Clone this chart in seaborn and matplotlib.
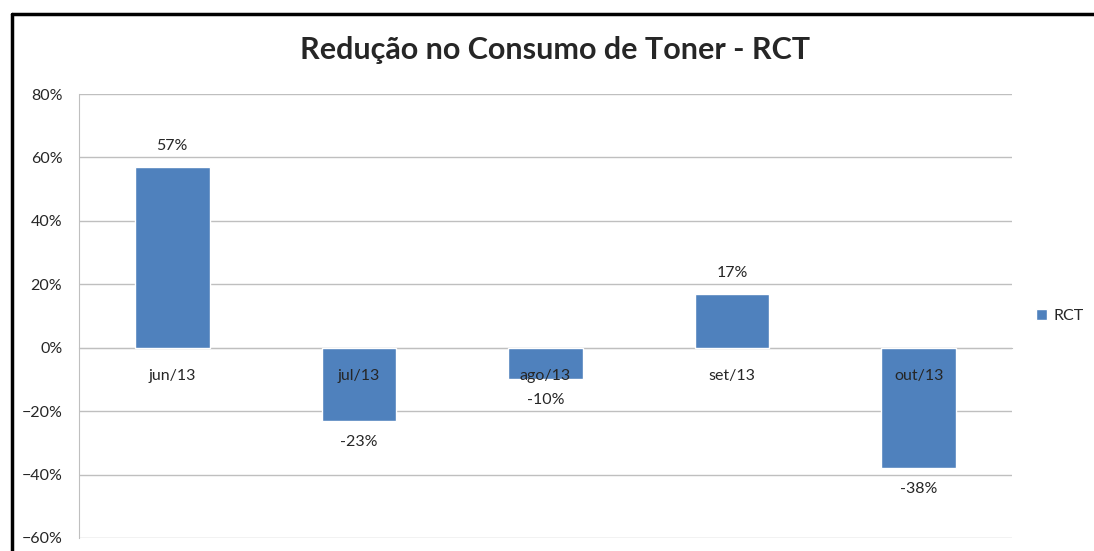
import numpy as np
import pandas as pd
import matplotlib
matplotlib.use("Agg")
import matplotlib.pyplot as plt
import seaborn as sns
from matplotlib.lines import Line2D
from matplotlib.ticker import FixedLocator, PercentFormatter

# dados do grafico
meses = ["jun/13", "jul/13", "ago/13", "set/13", "out/13"]
reducao = [57, -23, -10, 17, -38]
serie = "RCT"

df = pd.DataFrame({"Mes": meses, "Reducao": reducao, "Serie": serie})

sns.set_style("white")
plt.rcParams["font.family"] = ["Lato", "DejaVu Sans"]

fig = plt.figure(figsize=(10.94, 5.51), dpi=100)
ax = fig.add_axes([0.0722, 0.0236, 0.8528, 0.8058])

sns.barplot(data=df, x="Mes", y="Reducao", hue="Serie", palette=["#4F81BD"],
            width=0.4, ax=ax, legend=True, saturation=1)

ax.set_ylim(-60, 80)
ax.set_yticks(np.arange(-60, 81, 20))
ax.yaxis.set_major_formatter(PercentFormatter(decimals=0))
ax.grid(axis="y", color="#BFBFBF", linewidth=1)
ax.set_axisbelow(True)
ax.set_xlim(-0.5, len(meses) - 0.5)

for s in ["top", "right"]:
    ax.spines[s].set_visible(False)
ax.spines["left"].set_color("#BFBFBF")
ax.spines["bottom"].set_color("#BFBFBF")
ax.spines["bottom"].set_position(("data", 0))
ax.spines["bottom"].set_zorder(0.6)

ax.tick_params(axis="y", length=6, color="#BFBFBF", labelsize=11.5, pad=6)
ax.tick_params(axis="x", which="major", length=0, labelsize=11.5, pad=15)
ax.xaxis.set_minor_locator(FixedLocator(np.arange(0.5, len(meses) - 1, 1)))
ax.tick_params(axis="x", which="minor", length=6, color="#BFBFBF")
ax.xaxis.set_zorder(3)
ax.set_xlabel("")
ax.set_ylabel("")

for c in ax.containers:
    ax.bar_label(c, labels=[f"{v:.0f}%" for v in c.datavalues], padding=10, fontsize=11.5)

ax.legend(loc="center left", bbox_to_anchor=(1.01, 0.5), frameon=False,
          handlelength=0.7, handleheight=0.7, handletextpad=0.4, fontsize=11.5)

fig.text(0.507, 0.91, "Redução no Consumo de Toner - RCT", ha="center", va="center",
         fontsize=22, fontweight="bold")

# moldura
fig.add_artist(Line2D([0.011, 0.011], [-0.05, 0.9746], transform=fig.transFigure,
                      color="black", linewidth=2.5))
fig.add_artist(Line2D([0.011, 1.05], [0.9746, 0.9746], transform=fig.transFigure,
                      color="black", linewidth=2.5))

fig.savefig("out.png", dpi=100)
